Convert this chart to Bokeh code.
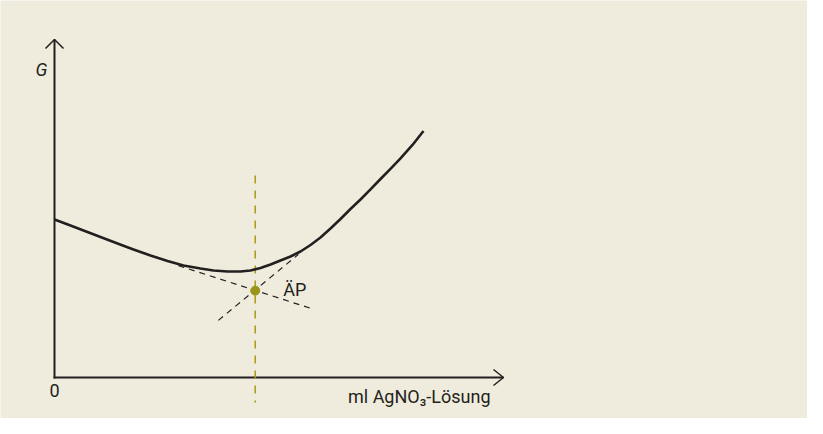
from bokeh.plotting import figure
from bokeh.models import Range1d
from bokeh.core.properties import value
from bokeh.embed import file_html
from bokeh.resources import INLINE

# --- data (x: ml AgNO3 solution, y: conductance G, arbitrary units) ---
curve_x = [0.0, 0.356, 0.646, 1.024, 1.403, 1.759, 2.138, 2.517, 2.873, 3.252, 3.541,
           3.853, 4.143, 4.365, 4.588, 4.811, 5.033, 5.256, 5.479, 5.702, 5.924, 6.147,
           6.370, 6.592, 6.815, 7.038, 7.261, 7.483, 7.706, 7.973, 8.218]
curve_y = [4.675, 4.497, 4.349, 4.157, 3.964, 3.787, 3.609, 3.447, 3.314, 3.225, 3.166,
           3.136, 3.136, 3.166, 3.240, 3.343, 3.462, 3.580, 3.728, 3.920, 4.142, 4.408,
           4.689, 4.985, 5.266, 5.568, 5.873, 6.175, 6.485, 6.879, 7.293]

tangent1_x = [2.76, 5.72]
tangent1_y = [3.31, 2.04]
tangent2_x = [3.65, 5.43]
tangent2_y = [1.69, 3.64]

ep_x = [4.47]
ep_y = [2.57]
ep_line_y = [5.98, -0.74]

axis_x_end = 10.0
axis_y_end = 10.0

label_ep = "ÄP"
label_x = "ml AgNO₃-Lösung"
label_y = "G"
label_zero = "0"

# --- styling ---
BG = "#f0ecdd"
INK = "#231f20"
OLIVE = "#a89a12"
DOT = "#9a9418"
FONT = "Roboto"
FS = "18px"

W, H = 807, 418
px_x = 44.9   # pixels per x unit
px_y = 33.8   # pixels per y unit
x0 = -54 / px_x
y0 = -(H - 377) / px_y

p = figure(width=W, height=H, output_backend="svg", toolbar_location=None,
           x_range=Range1d(x0, x0 + W / px_x), y_range=Range1d(y0, y0 + H / px_y),
           min_border=0, min_border_left=0, min_border_right=0,
           min_border_top=0, min_border_bottom=0)
p.axis.visible = False
p.grid.visible = False
p.outline_line_color = None
p.background_fill_color = BG
p.border_fill_color = BG

# axes as arrows
p.line([-0.02, axis_x_end], [0, 0], line_color=INK, line_width=2)
p.line([0, 0], [-0.03, axis_y_end], line_color=INK, line_width=2)
hx, hy = 10 / px_x, 8 / px_y      # x-arrow head (back, half-width)
p.line([axis_x_end - hx, axis_x_end, axis_x_end - hx], [hy, 0, -hy], line_color=INK, line_width=1.5)
vx, vy = 9 / px_x, 9 / px_y
p.line([-vx, 0, vx], [axis_y_end - vy, axis_y_end, axis_y_end - vy], line_color=INK, line_width=1.5)

# equivalence-point vertical
p.line([ep_x[0], ep_x[0]], ep_line_y, line_color=OLIVE, line_width=1.5, line_dash="8 7")

# tangents
p.line(tangent1_x, tangent1_y, line_color=INK, line_width=1.2, line_dash="6 5")
p.line(tangent2_x, tangent2_y, line_color=INK, line_width=1.2, line_dash="6 5")

# curve
p.line(curve_x, curve_y, line_color=INK, line_width=2.6, line_join="round")

# equivalence point
p.scatter(ep_x, ep_y, size=9, fill_color=DOT, line_color=DOT)

# texts
p.text([ep_x[0] + 28 / px_x], [ep_y[0] + 1 / px_y], text=[label_ep], text_font=value(FONT),
       text_font_size=FS, text_color=INK, text_align="left", text_baseline="middle")
p.text([axis_x_end - 13 / px_x], [-19 / px_y], text=[label_x], text_font=value(FONT),
       text_font_size=FS, text_color=INK, text_align="right", text_baseline="middle")
p.text([-7 / px_x], [(377 - 69) / px_y], text=[label_y], text_font=value(FONT),
       text_font_size=FS, text_font_style="italic", text_color=INK,
       text_align="right", text_baseline="middle")
p.text([0], [-6 / px_y], text=[label_zero], text_font=value(FONT),
       text_font_size=FS, text_color=INK, text_align="center", text_baseline="top")

open("out.html", "w").write(file_html(p, INLINE))
